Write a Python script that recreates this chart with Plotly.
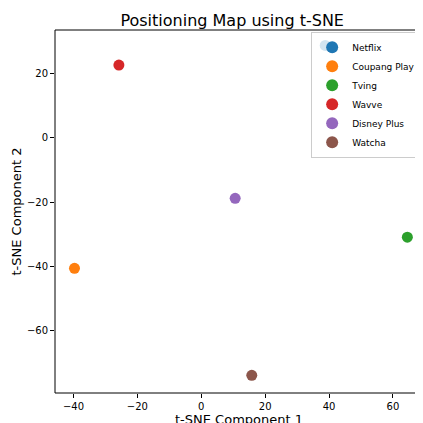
import plotly.graph_objects as go

names = ["Netflix", "Coupang Play", "Tving", "Wavve", "Disney Plus", "Watcha"]
x_vals = [38.8, -39.7, 64.5, -25.8, 10.6, 15.8]
y_vals = [28.8, -40.6, -30.9, 22.7, -18.8, -73.9]
colors = ["#1f77b4", "#ff7f0e", "#2ca02c", "#d62728", "#9467bd", "#8c564b"]

fig = go.Figure()
for n, x, y, c in zip(names, x_vals, y_vals, colors):
    fig.add_trace(go.Scatter(x=[x], y=[y], mode="markers", name=n,
                             marker=dict(color=c, size=11)))

axis = dict(showgrid=False, zeroline=False, showline=False,
            ticks="outside", ticklen=4, tickcolor="black",
            tickfont=dict(size=10, color="black"))
fig.update_xaxes(range=[-45.8, 69.4], dtick=20, title=dict(text="t-SNE Component 1", font=dict(size=13), standoff=2), **axis)
fig.update_yaxes(range=[-79.4, 33.6], dtick=20, title=dict(text="t-SNE Component 2", font=dict(size=13), standoff=2), **axis)

# axes frame
fig.add_shape(type="rect", xref="paper", yref="paper", x0=0, y0=0, x1=1, y1=1,
              line=dict(color="black", width=1))

fig.update_layout(
    width=423, height=423,
    margin=dict(l=40, r=8, t=22, b=32),
    plot_bgcolor="white", paper_bgcolor="white",
    font=dict(family="DejaVu Sans", color="black"),
    title=dict(text="Positioning Map using t-SNE", x=0.53, y=0.985, xanchor="center",
               font=dict(size=16)),
    legend=dict(x=0.995, y=0.995, xanchor="right", yanchor="top",
                bordercolor="#cccccc", borderwidth=1, bgcolor="rgba(255,255,255,0.8)",
                font=dict(size=9), tracegroupgap=0, itemsizing="constant",
                itemwidth=30),
)

fig.write_html("out.html")
